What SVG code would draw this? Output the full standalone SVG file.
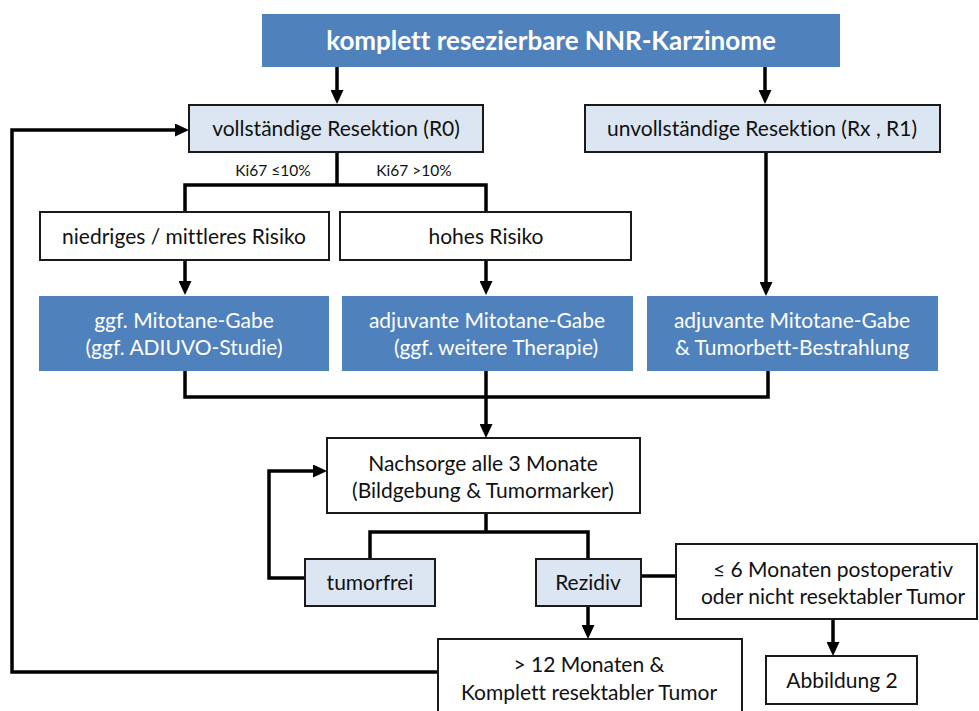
<svg xmlns="http://www.w3.org/2000/svg" width="979" height="711" viewBox="0 0 979 711">
<style>
text{font-family:Lato,"Open Sans","Liberation Sans",sans-serif;text-anchor:middle;fill:#111;font-variant-ligatures:none}
.t{font-size:21px}
.w{fill:#fff}
.title{font-size:26px;font-weight:bold;fill:#fff}
.ki{font-size:15.5px}
.blue{fill:#4F81BD}
.light{fill:#DCE6F2;stroke:#1a1a1a;stroke-width:2}
.white{fill:#fff;stroke:#1a1a1a;stroke-width:2}
.c{fill:none;stroke:#000;stroke-width:3.5}
.a{marker-end:url(#arr)}
</style>
<defs>
<marker id="arr" markerUnits="userSpaceOnUse" viewBox="0 0 14 13" markerWidth="14" markerHeight="13" refX="9" refY="6.5" orient="auto">
<path d="M0,0 L14,6.5 L0,13 Z" fill="#000"/>
</marker>
</defs>
<g id="connectors">
<path class="c a" d="M337,67 V99"/>
<path class="c a" d="M765,67 V99"/>
<path class="c a" d="M438,672 H12 V130 H184"/>
<path class="c" d="M337,152 V185"/>
<path class="c" d="M185,212 V185 H486 V212"/>
<path class="c a" d="M185,260 V290"/>
<path class="c a" d="M486,260 V290"/>
<path class="c a" d="M766,152 V291"/>
<path class="c" d="M185,371 V397 H768 V371"/>
<path class="c a" d="M486,371 V433"/>
<path class="c" d="M486,513 V532"/>
<path class="c" d="M370,559 V532 H588 V559"/>
<path class="c a" d="M305,578 H269 V471 H322"/>
<path class="c" d="M641,576 H676"/>
<path class="c a" d="M588,606 V634"/>
<path class="c a" d="M833,619 V651"/>
</g>
<g id="title">
<rect class="blue" x="262" y="14" width="578" height="53"/>
<text class="title" x="551" y="50">komplett resezierbare NNR-Karzinome</text>
</g>
<g id="r0">
<rect class="light" x="189" y="105" width="294" height="47"/>
<text class="t" x="336" y="136">vollständige Resektion (R0)</text>
</g>
<g id="r1">
<rect class="light" x="585" y="105" width="355" height="47"/>
<text class="t" x="762" y="136">unvollständige Resektion (Rx , R1)</text>
</g>
<g id="ki-labels">
<text class="ki" x="273" y="176">Ki67 ≤10%</text>
<text class="ki" x="414" y="176">Ki67 &gt;10%</text>
</g>
<g id="niedrig">
<rect class="white" x="40" y="212" width="289" height="48"/>
<text class="t" x="184" y="244">niedriges / mittleres Risiko</text>
</g>
<g id="hoch">
<rect class="white" x="340" y="212" width="291" height="48"/>
<text class="t" x="486" y="244">hohes Risiko</text>
</g>
<g id="therapie1">
<rect class="blue" x="39" y="296" width="290" height="75"/>
<text class="t w" x="184" y="328">ggf. Mitotane-Gabe</text>
<text class="t w" x="184" y="355">(ggf. ADIUVO-Studie)</text>
</g>
<g id="therapie2">
<rect class="blue" x="342" y="296" width="291" height="75"/>
<text class="t w" x="487" y="328">adjuvante Mitotane-Gabe</text>
<text class="t w" x="496" y="355">(ggf. weitere Therapie)</text>
</g>
<g id="therapie3">
<rect class="blue" x="647" y="296" width="291" height="75"/>
<text class="t w" x="792" y="328">adjuvante Mitotane-Gabe</text>
<text class="t w" x="792" y="355">&amp; Tumorbett-Bestrahlung</text>
</g>
<g id="nachsorge">
<rect class="white" x="327" y="438" width="313" height="75"/>
<text class="t" x="483" y="471">Nachsorge alle 3 Monate</text>
<text class="t" x="483" y="498">(Bildgebung &amp; Tumormarker)</text>
</g>
<g id="tumorfrei">
<rect class="light" x="305" y="559" width="130" height="47"/>
<text class="t" x="370" y="590">tumorfrei</text>
</g>
<g id="rezidiv">
<rect class="light" x="536" y="559" width="105" height="47"/>
<text class="t" x="588" y="590">Rezidiv</text>
</g>
<g id="frueh">
<rect class="white" x="676" y="544" width="301" height="75"/>
<text class="t" x="833" y="577">≤ 6 Monaten postoperativ</text>
<text class="t" x="833" y="604">oder nicht resektabler Tumor</text>
</g>
<g id="abbildung">
<rect class="white" x="766" y="656" width="151" height="48"/>
<text class="t" x="842" y="688">Abbildung 2</text>
</g>
<g id="spaet">
<rect class="white" x="438" y="639" width="304" height="80"/>
<text class="t" x="589" y="672">&gt; 12 Monaten &amp;</text>
<text class="t" x="589" y="700">Komplett resektabler Tumor</text>
</g>
</svg>
